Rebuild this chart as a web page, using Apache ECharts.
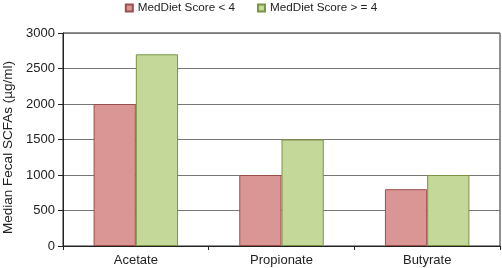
<!DOCTYPE html>
<html>
<head>
<meta charset="utf-8">
<script src="https://cdn.jsdelivr.net/npm/echarts@6/dist/echarts.min.js"></script>
<style>
  html, body { margin: 0; padding: 0; background: #fff; }
  #main { width: 502px; height: 268px; }
</style>
</head>
<body>
<div id="main"></div>
<script>
const categories = ['Acetate', 'Propionate', 'Butyrate'];
const lowScore = [2000, 1000, 800];
const highScore = [2700, 1500, 1000];
const yTicks = [0, 500, 1000, 1500, 2000, 2500, 3000];

const chart = echarts.init(document.getElementById('main'));
const font = 'Liberation Sans, Arial, sans-serif';

const option = {
  animation: false,
  textStyle: { fontFamily: font },
  legend: {
    top: 2,
    left: 'center',
    padding: 0,
    itemWidth: 7,
    itemHeight: 7,
    itemGap: 22,
    icon: 'rect',
    textStyle: { fontSize: 11.7, color: '#222', fontFamily: font },
    data: ['MedDiet Score < 4', 'MedDiet Score > = 4']
  },
  grid: {
    left: 63,
    right: 2,
    top: 33,
    bottom: 22,
    outerBoundsMode: 'none',
    containLabel: false,
    show: true,
    borderColor: '#222',
    borderWidth: 1
  },
  xAxis: {
    type: 'category',
    data: categories,
    axisLine: { lineStyle: { color: '#222' } },
    axisTick: { show: true, length: 4, lineStyle: { color: '#222' } },
    axisLabel: { fontSize: 13, color: '#222', margin: 8, fontFamily: font }
  },
  yAxis: {
    type: 'value',
    min: yTicks[0],
    max: yTicks[yTicks.length - 1],
    interval: 500,
    name: 'Median Fecal SCFAs (µg/ml)',
    nameLocation: 'middle',
    nameGap: 48,
    nameTextStyle: { fontSize: 13.5, color: '#222', fontFamily: font, padding: [0, 16, 0, 0] },
    axisLine: { show: true, lineStyle: { color: '#222' } },
    axisTick: { show: true, length: 5, lineStyle: { color: '#222' } },
    axisLabel: { fontSize: 13, color: '#222', margin: 8, fontFamily: font, formatter: v => String(v) },
    splitLine: { show: true, lineStyle: { color: '#777', width: 1 } }
  },
  series: [
    {
      name: 'MedDiet Score < 4',
      type: 'bar',
      data: lowScore,
      barGap: '0%',
      barCategoryGap: '42%',
      itemStyle: { color: '#D99694', borderColor: '#9B4F4D', borderWidth: 1 }
    },
    {
      name: 'MedDiet Score > = 4',
      type: 'bar',
      data: highScore,
      itemStyle: { color: '#C4D89A', borderColor: '#7A9444', borderWidth: 1 }
    }
  ]
};

chart.setOption(option);
</script>
</body>
</html>
